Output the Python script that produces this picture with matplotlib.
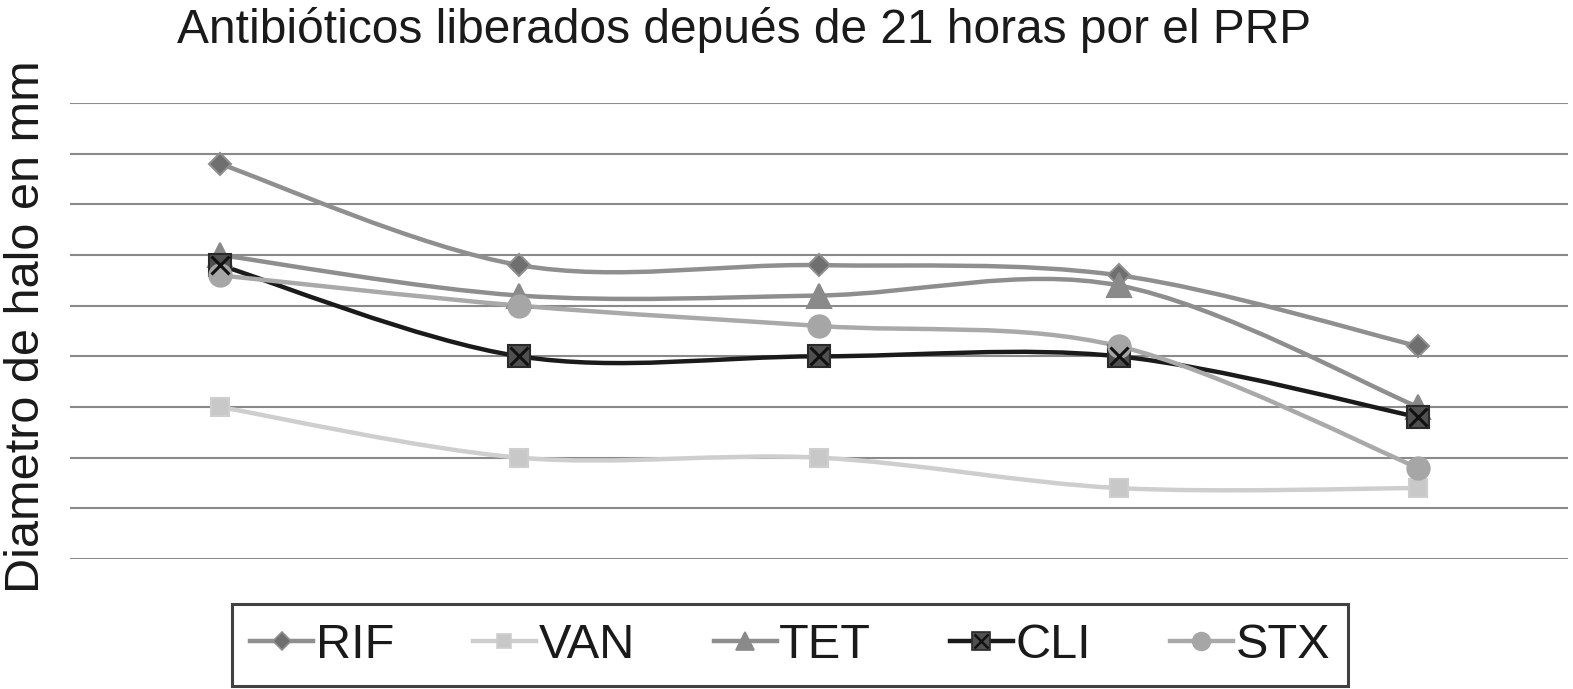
import numpy as np
import matplotlib
matplotlib.use("Agg")
import matplotlib.pyplot as plt
from matplotlib.path import Path
from matplotlib.patches import PathPatch
from matplotlib.lines import Line2D

plt.rcParams['font.family'] = ['Liberation Sans', 'DejaVu Sans']

# data (gridline = 1 unit)
categories = [1, 2, 3, 4, 5]
rif = [7.8, 5.8, 5.8, 5.6, 4.2]
van = [3.0, 2.0, 2.0, 1.4, 1.4]
tet = [6.0, 5.2, 5.2, 5.4, 3.0]
cli = [5.8, 4.0, 4.0, 4.0, 2.8]
stx = [5.6, 5.0, 4.6, 4.2, 1.8]
names = ["RIF", "VAN", "TET", "CLI", "STX"]
title = "Antibióticos liberados depués de 21 horas por el PRP"
ylabel = "Diametro de halo en mm"


def smooth_path(x, y):
    # Excel-like smoothed line: cubic bezier through the points
    p = np.column_stack([x, y]).astype(float)
    n = len(p)
    verts = [p[0]]
    codes = [Path.MOVETO]
    for i in range(n - 1):
        p0 = p[i - 1] if i > 0 else p[i]
        p3 = p[i + 2] if i + 2 < n else p[i + 1]
        c1 = p[i] + (p[i + 1] - p0) / 6.0
        c2 = p[i + 1] - (p3 - p[i]) / 6.0
        verts += [c1, c2, p[i + 1]]
        codes += [Path.CURVE4] * 3
    return Path(verts, codes)


fig = plt.figure(figsize=(15.73, 6.89), dpi=100)
ax = fig.add_axes([70 / 1573, 130 / 689, 1498 / 1573, 456 / 689])

x = np.arange(len(categories))
ax.set_xlim(-0.5, len(categories) - 0.5)
ax.set_ylim(0, 9)
ax.set_yticks(np.arange(0, 10))
ax.yaxis.grid(True, color="#8a8a8a", lw=1.5)
ax.set_axisbelow(True)
ax.tick_params(left=False, bottom=False, labelleft=False, labelbottom=False)
for s in ax.spines.values():
    s.set_visible(False)

styles = [
    # line color, lw, marker, ms, face, edge
    ("#8f8f8f", 3.2, "D", 11, "#6f6f6f", "#8f8f8f"),
    ("#cecece", 3.2, "s", 13, "#c8c8c8", "#cecece"),
    ("#8e8e8e", 3.2, "^", 17, "#8a8a8a", "#8a8a8a"),
    ("#1a1a1a", 3.2, "s", 16, "#505050", "#2a2a2a"),
    ("#a9a9a9", 3.2, "o", 16, "#a6a6a6", "#a6a6a6"),
]
series = [rif, van, tet, cli, stx]

handles = []
for vals, (lc, lw, mk, ms, fc, ec), name in zip(series, styles, names):
    ax.add_patch(PathPatch(smooth_path(x, vals), fill=False, edgecolor=lc, lw=lw,
                           capstyle="round", zorder=2))
    ax.plot(x, vals, ls="none", marker=mk, ms=ms, mfc=fc, mec=ec, mew=1.5, zorder=3)
    h = Line2D([], [], color=lc, lw=lw, marker=mk, ms=ms * 0.8, mfc=fc, mec=ec, mew=1.2)
    if name == "CLI":
        ax.plot(x, vals, ls="none", marker="x", ms=ms * 0.85, mec="#111111", mew=2.2, zorder=4)
        hx = Line2D([], [], ls="none", marker="x", ms=ms * 0.66, mec="#111111", mew=1.8)
        h = (h, hx)
    handles.append(h)

fig.text(744 / 1573, 1 - 30 / 689, title, ha="center", va="center",
         fontsize=34.5, color="#1a1a1a")
fig.text(27 / 1573, 1 - 327 / 689, ylabel, ha="center", va="center",
         rotation=90, fontsize=35, color="#1a1a1a")

leg = fig.legend(handles, names, loc="lower center", bbox_to_anchor=(790 / 1573, 3 / 689),
                 ncol=5, frameon=True, fancybox=False, handlelength=1.3,
                 handletextpad=0.05, columnspacing=1.62, borderpad=0.38,
                 borderaxespad=0, prop={"family": "Liberation Sans", "size": 35})
leg.get_frame().set_edgecolor("#111111")
leg.get_frame().set_linewidth(2.2)
for t in leg.get_texts():
    t.set_color("#1a1a1a")

fig.savefig("out.png", dpi=100)
